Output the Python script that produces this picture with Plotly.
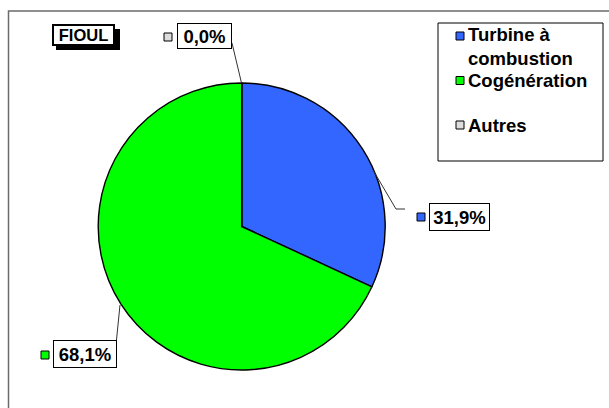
import plotly.graph_objects as go

# ---- data ----
categories = ["Turbine à combustion", "Cogénération", "Autres"]
values = [31.9, 68.1, 0.0]
label_texts = ["31,9%", "68,1%", "0,0%"]
colors = ["#3366FF", "#00FF00", "#DDDDDD"]
legend_texts = ["Turbine à<br>combustion", "Cogénération", "Autres"]
title_text = "FIOUL"

W, H = 609, 408


def px(x):
    return x / W


def py(y):
    return 1 - y / H


FONT = "Liberation Sans, Arial, sans-serif"

fig = go.Figure()
fig.add_trace(go.Pie(
    labels=categories,
    values=values,
    marker=dict(colors=colors, line=dict(color="black", width=1.4)),
    sort=False,
    direction="clockwise",
    rotation=0,
    textinfo="none",
    hoverinfo="label+percent",
    showlegend=False,
    domain=dict(x=[px(98.2), px(385.2)], y=[py(370), py(83)]),
))

shapes = []
annotations = []

# outer frame (right and bottom edges fall outside the picture)
shapes.append(dict(type="rect", xref="paper", yref="paper",
                   x0=px(8.5), x1=px(612), y0=py(412), y1=py(11),
                   line=dict(color="#6b6b6b", width=1.5)))

# FIOUL title box with shadow
shapes.append(dict(type="rect", xref="paper", yref="paper",
                   x0=px(56), x1=px(120), y0=py(50), y1=py(29),
                   fillcolor="black", line=dict(width=0), layer="above"))
annotations.append(dict(x=px(83.5), y=py(35), xref="paper", yref="paper",
                        text="<b>%s</b>" % title_text, showarrow=False,
                        font=dict(family=FONT, size=16.5, color="black"),
                        bgcolor="white", bordercolor="black", borderwidth=2,
                        borderpad=0, width=59, height=18,
                        xanchor="center", yanchor="middle"))

# data labels: (box center x, center y, width, height, square x0, square y0)
label_layout = [
    (459.5, 217, 57, 24, 417, 213),
    (85, 354, 60, 24, 41, 351),
    (204.5, 36, 51, 22, 164, 33),
]
for i, (cx, cy, w, h, sx, sy) in enumerate(label_layout):
    annotations.append(dict(x=px(cx), y=py(cy), xref="paper", yref="paper",
                            text="<b>%s</b>" % label_texts[i], showarrow=False,
                            font=dict(family=FONT, size=18.5, color="black"),
                            bgcolor="white", bordercolor="black", borderwidth=1,
                            borderpad=1, width=w, height=h,
                            xanchor="center", yanchor="middle"))
    shapes.append(dict(type="rect", xref="paper", yref="paper",
                       x0=px(sx), x1=px(sx + 8), y0=py(sy + 8), y1=py(sy),
                       fillcolor=colors[i], line=dict(color="black", width=1),
                       layer="above"))

# leader lines
leaders = [
    [(373, 170), (396, 209), (405, 209)],
    [(120, 305), (116.5, 340)],
    [(232, 43), (241.5, 83)],
]
for pts in leaders:
    path = "M " + " L ".join("%f,%f" % (px(x), py(y)) for x, y in pts)
    shapes.append(dict(type="path", xref="paper", yref="paper", path=path,
                       line=dict(color="#333333", width=1), layer="above"))

# legend box
shapes.append(dict(type="rect", xref="paper", yref="paper",
                   x0=px(438), x1=px(603), y0=py(161), y1=py(23),
                   line=dict(color="black", width=1), fillcolor="white",
                   layer="below"))
legend_sq_y = [36, 80.5, 125]
legend_text_y = [46.5, 80.5, 125]
for i in range(3):
    sq_c = legend_sq_y[i]
    shapes.append(dict(type="rect", xref="paper", yref="paper",
                       x0=px(456), x1=px(464), y0=py(sq_c + 4), y1=py(sq_c - 4),
                       fillcolor=colors[i], line=dict(color="black", width=1),
                       layer="above"))
    annotations.append(dict(x=px(466), y=py(legend_text_y[i]), xref="paper", yref="paper",
                            text="<b>%s</b>" % legend_texts[i], showarrow=False,
                            font=dict(family=FONT, size=18.5, color="black"),
                            align="left", xanchor="left", yanchor="middle"))

fig.update_layout(
    width=W, height=H, autosize=False,
    margin=dict(l=0, r=0, t=0, b=0),
    paper_bgcolor="white", plot_bgcolor="white",
    shapes=shapes, annotations=annotations,
    showlegend=False,
)

fig.write_html("out.html", config={"displayModeBar": False},
               post_script="document.body.style.margin='0';document.body.style.overflow='hidden';")
